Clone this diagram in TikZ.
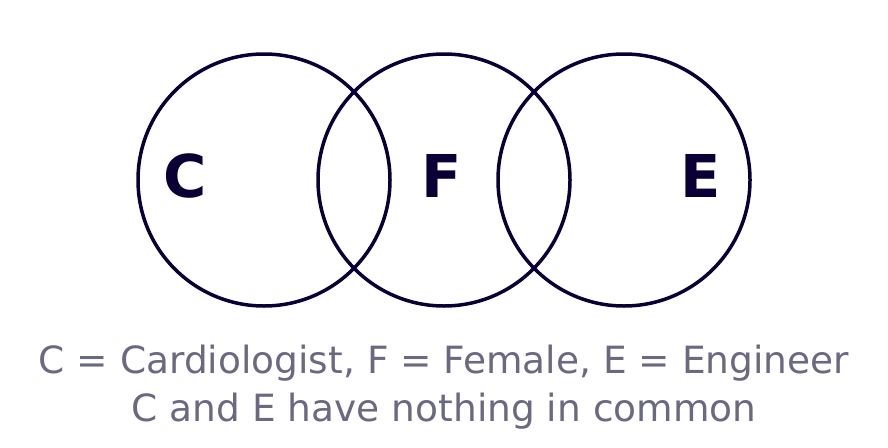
\documentclass[tikz,border=0pt]{standalone}
\usepackage{fontspec}
\setmainfont{DejaVu Sans}
\definecolor{navy}{HTML}{0B0036}
\definecolor{capgray}{HTML}{6B6882}
\begin{document}
\begin{tikzpicture}[x=1pt,y=-1pt,
  setc/.style={draw=navy, line width=3.5pt, circle, minimum size=252pt, inner sep=0pt},
  lbl/.style={anchor=base, text=navy, font=\fontsize{59}{59}\selectfont\bfseries},
  captext/.style={anchor=base, text=capgray, font=\fontsize{37.5}{37.5}\selectfont}]
\useasboundingbox (0,0) rectangle (888,447);
\node[setc] (c1) at (264,180) {};
\node[setc] (c2) at (444,180) {};
\node[setc] (c3) at (624,180) {};
\node[lbl] (lc) at (185,197) {C};
\node[lbl] (lf) at (442,197) {F};
\node[lbl] (le) at (701,197) {E};
\node[captext] (t1) at (444,373) {C = Cardiologist, F = Female, E = Engineer};
\node[captext] (t2) at (444,421) {C and E have nothing in common};
\end{tikzpicture}
\end{document}
